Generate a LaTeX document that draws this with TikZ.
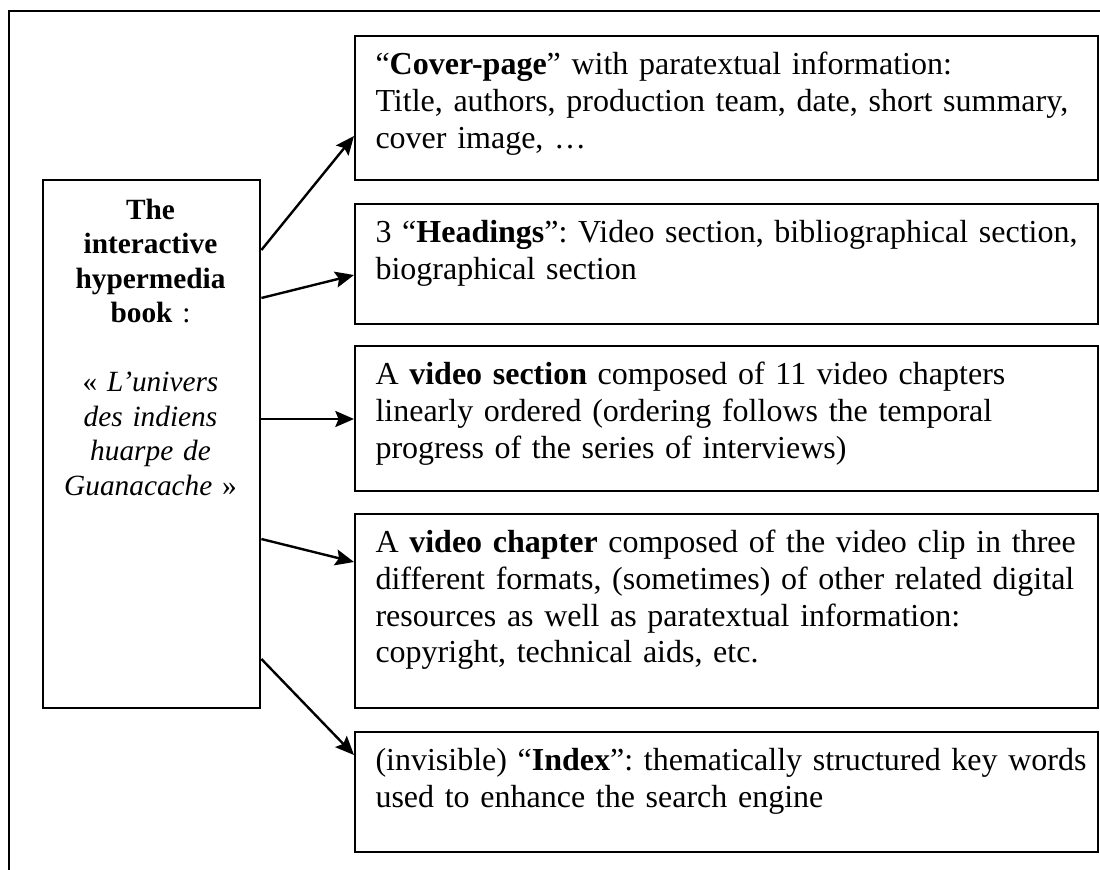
\documentclass[tikz,border=0pt]{standalone}
\usepackage{fontspec}
\setmainfont{Liberation Serif}
\usetikzlibrary{calc,arrows.meta}
\frenchspacing
\begin{document}
\frenchspacing
\begin{tikzpicture}[x=0.375pt,y=-0.375pt,
  box/.style={draw,line width=0.9pt,inner sep=0pt,anchor=north west,minimum width=278.625pt},
  txt/.style={inner sep=0pt,anchor=north west,text width=290pt,align=left,font=\fontsize{12}{13.8}\selectfont\frenchspacing},
  ltxt/.style={inner sep=0pt,anchor=north,text width=80pt,align=center,font=\fontsize{11}{12.95}\selectfont\frenchspacing},
  arr/.style={line width=0.9pt,-{Stealth[length=7pt,width=6pt,inset=1.2pt]}},
  frameline/.style={line width=1pt}]
\useasboundingbox (0,0) rectangle (1100,870);
\draw[frameline] (9,900) -- (9,11) -- (1130,11);
% left box
\node[draw,line width=0.9pt,inner sep=0pt,anchor=north west,minimum width=81.375pt,minimum height=198pt] (L) at (42,179) {};
% right boxes
\node[box,minimum height=54pt] (B1) at (354,35) {};
\node[box,minimum height=45pt] (B2) at (354,203) {};
\node[box,minimum height=54.375pt] (B3) at (354,345) {};
\node[box,minimum height=72.75pt] (B4) at (354,513) {};
\node[box,minimum height=45pt] (B5) at (354,731) {};
% texts
\node[ltxt] (tl) at (150.5,194) {\rule{0pt}{9.2pt}\textbf{The}\\ \textbf{interactive}\\ \textbf{hypermedia}\\ \textbf{book} :\\ \mbox{}\\ « \textit{L’univers}\\ \textit{des indiens}\\ \textit{huarpe de}\\ \textit{Guanacache} »};
\node[txt] (t1) at ($(B1.north west)+(21,12.3)$) {\rule{0pt}{10pt}“\textbf{Cover-page}” with paratextual information:\\ Title, authors, production team, date, short summary,\\ cover image, …};
\node[txt] (t2) at ($(B2.north west)+(21,12.3)$) {\rule{0pt}{10pt}3 “\textbf{Headings}”: Video section, bibliographical section,\\ biographical section};
\node[txt] (t3) at ($(B3.north west)+(21,12.3)$) {\rule{0pt}{10pt}A \textbf{video section} composed of 11 video chapters\\ linearly ordered (ordering follows the temporal\\ progress of the series of interviews)};
\node[txt] (t4) at ($(B4.north west)+(21,12.3)$) {\rule{0pt}{10pt}A \textbf{video chapter} composed of the video clip in three\\ different formats, (sometimes) of other related digital\\ resources as well as paratextual information:\\ copyright, technical aids, etc.};
\node[txt] (t5) at ($(B5.north west)+(21,12.3)$) {\rule{0pt}{10pt}(invisible) “\textbf{Index}”: thematically structured key words\\ used to enhance the search engine};
% arrows
\draw[arr] ($(L.north east)+(0,71)$) -- ($(B1.north west)+(0,101)$);
\draw[arr] ($(L.north east)+(0,119)$) -- ($(B2.north west)+(0,72)$);
\draw[arr] ($(L.north east)+(0,240)$) -- ($(B3.north west)+(0,74)$);
\draw[arr] ($(L.north east)+(0,360)$) -- ($(B4.north west)+(0,49)$);
\draw[arr] ($(L.north east)+(0,480)$) -- ($(B5.north west)+(0,24)$);
\end{tikzpicture}
\end{document}
